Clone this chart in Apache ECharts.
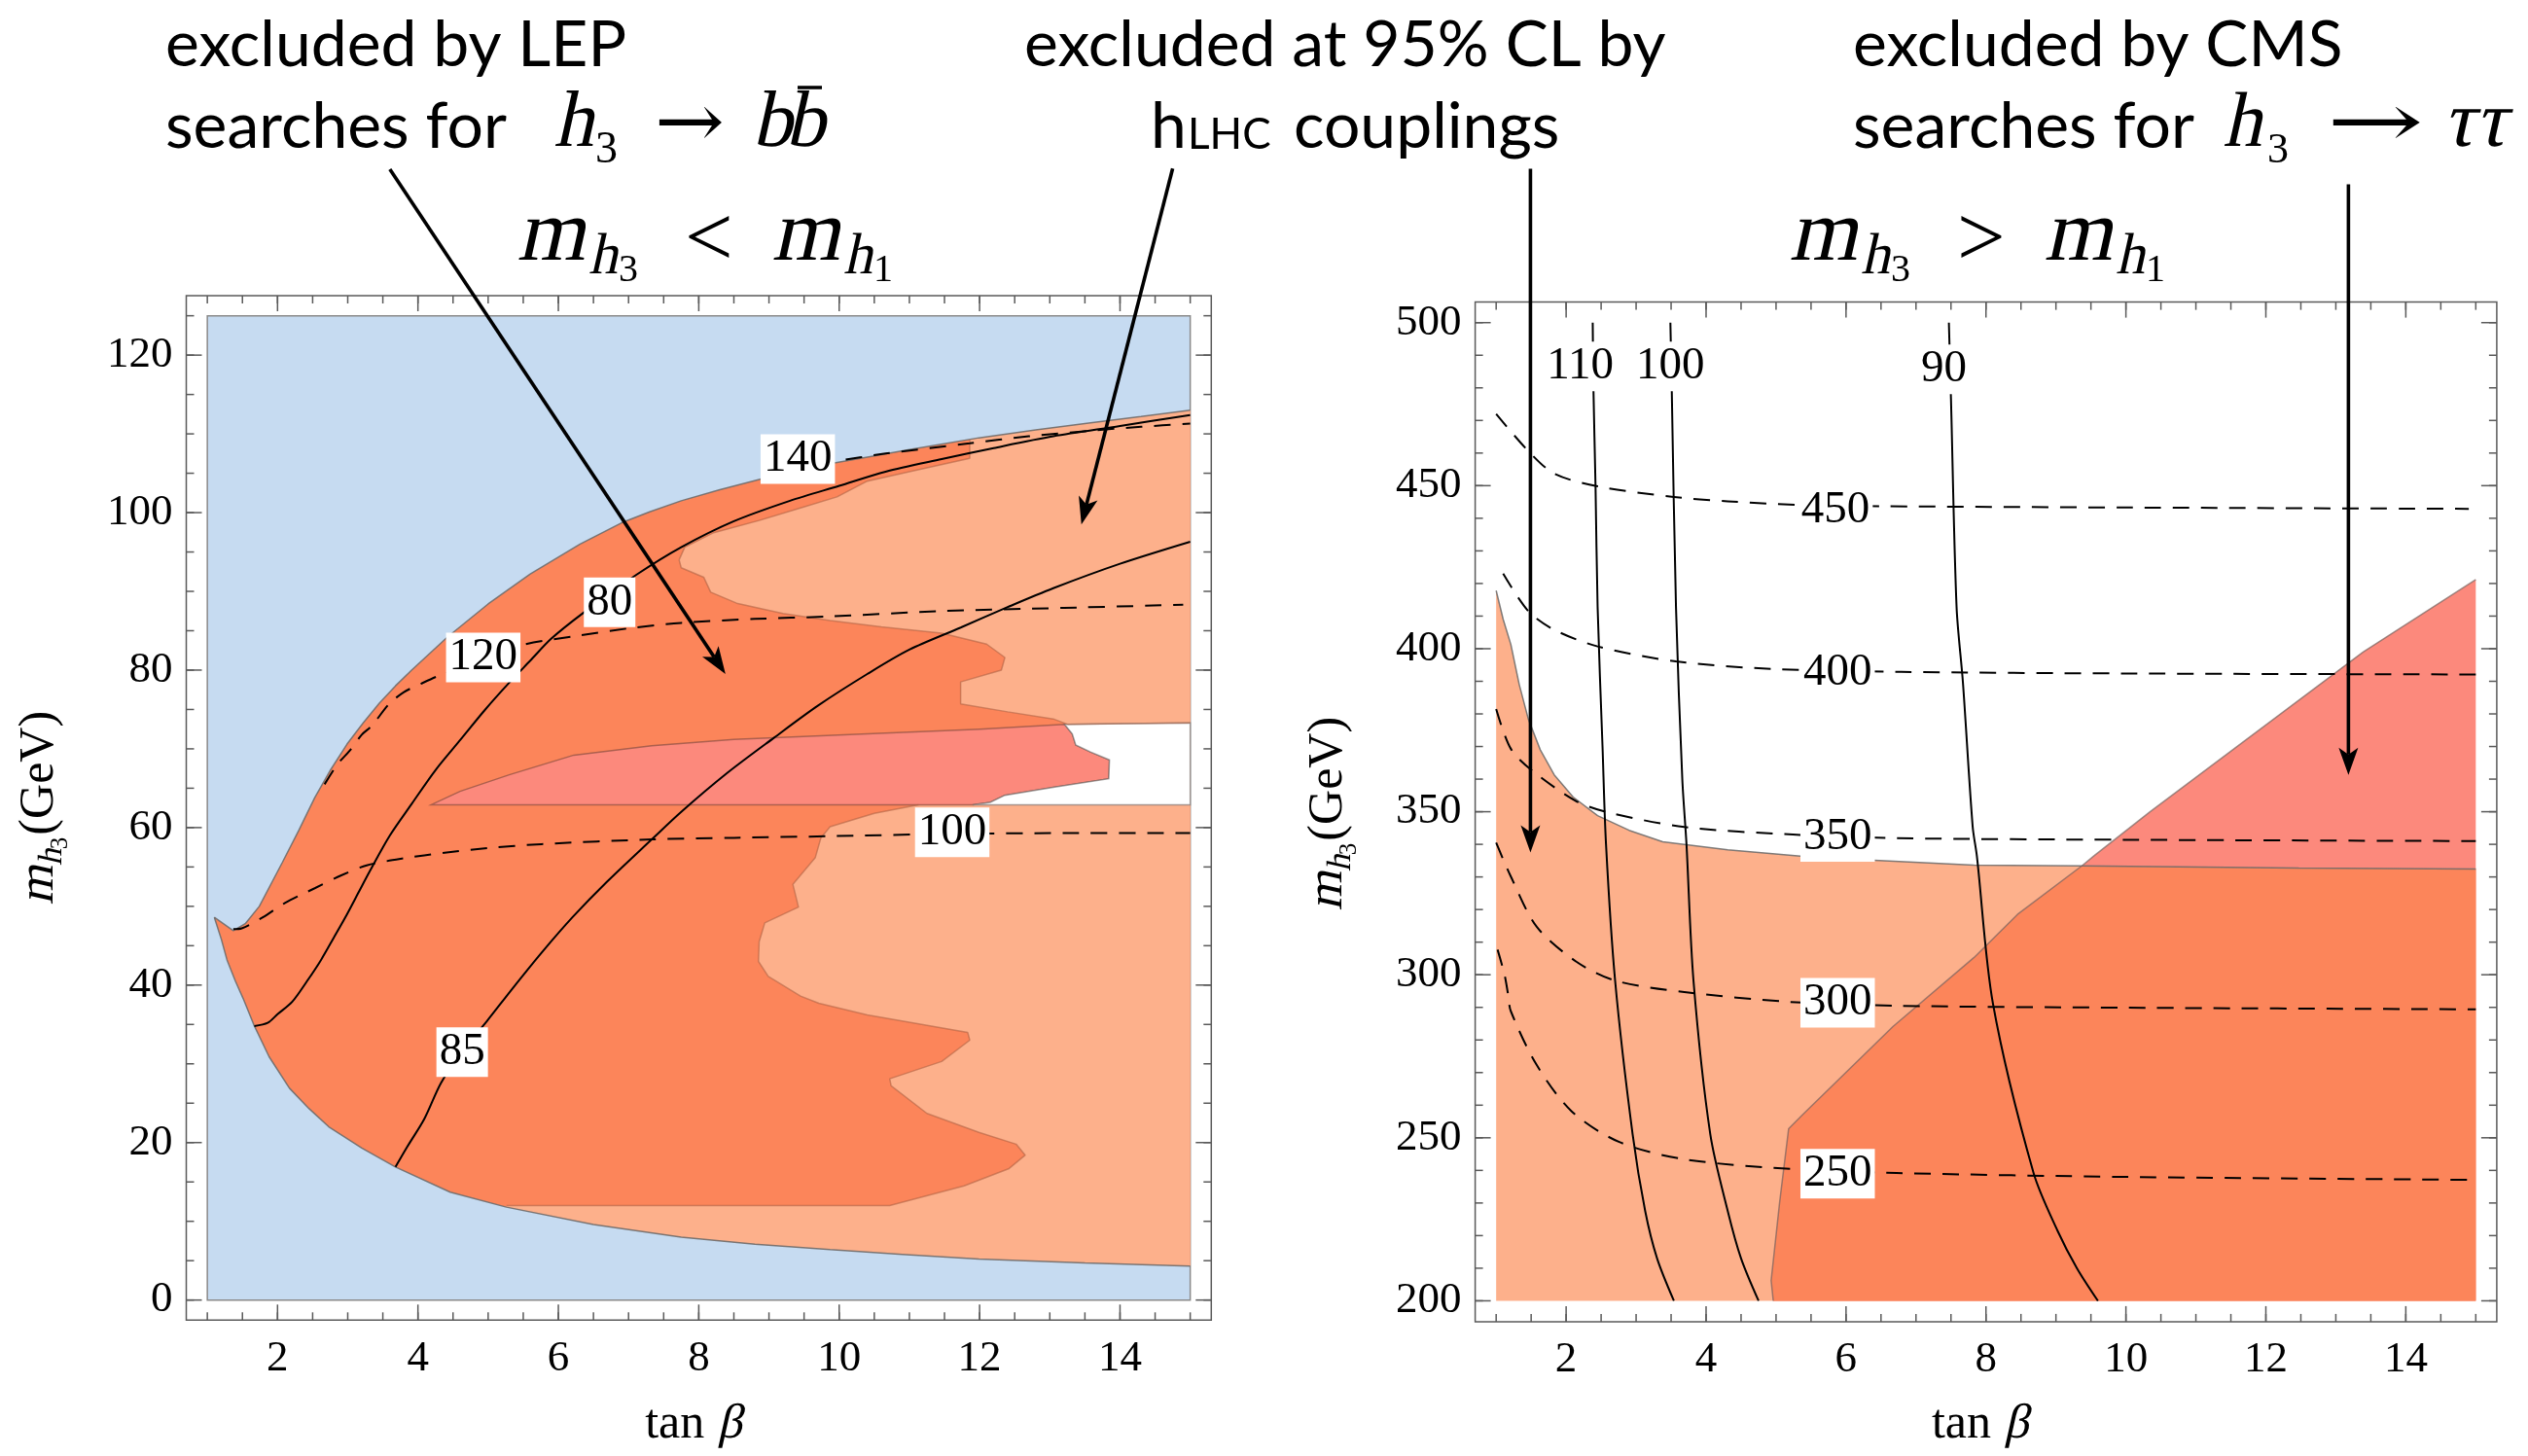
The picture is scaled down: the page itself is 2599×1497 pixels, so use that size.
<!DOCTYPE html>
<html>
<head>
<meta charset="utf-8">
<script src="https://cdn.jsdelivr.net/npm/echarts@6.0.0/dist/echarts.min.js"></script>
<style>
html,body{margin:0;padding:0;background:#ffffff;}
#chart{width:2599px;height:1497px;}
</style>
</head>
<body>
<div id="chart"></div>
<script>
/* ================= tick values ================= */
const xMajorTicks = [2, 4, 6, 8, 10, 12, 14];
const xMinorTicks = [1, 1.5, 2, 2.5, 3, 3.5, 4, 4.5, 5, 5.5, 6, 6.5, 7, 7.5, 8, 8.5, 9, 9.5, 10, 10.5, 11, 11.5, 12, 12.5, 13, 13.5, 14, 14.5, 15];
const leftYMajorTicks = [0, 20, 40, 60, 80, 100, 120];
const leftYMinorTicks = [0, 5, 10, 15, 20, 25, 30, 35, 40, 45, 50, 55, 60, 65, 70, 75, 80, 85, 90, 95, 100, 105, 110, 115, 120, 125];
const rightYMajorTicks = [200, 250, 300, 350, 400, 450, 500];
const rightYMinorTicks = [200, 210, 220, 230, 240, 250, 260, 270, 280, 290, 300, 310, 320, 330, 340, 350, 360, 370, 380, 390, 400, 410, 420, 430, 440, 450, 460, 470, 480, 490, 500];

/* ================= left panel: m_h3 < m_h1 ================= */
const leftScanBox = [[1, 0], [15, 0], [15, 125], [1, 125]];
const leftUpperEdge = [[1.10,48.6],[1.37,46.9],[1.54,47.8],[1.74,50.0],[2.07,55.6],[2.3,59.6],[2.53,63.8],[2.76,67.4],[2.99,70.6],[3.22,73.3],[3.45,75.8],[3.68,78.0],[3.91,80.0],[4.42,84.2],[5.0,88.4],[5.6,92.2],[6.31,96.0],[6.9,98.7],[7.3,100.1],[7.75,101.5],[8.3,102.9],[8.9,104.3],[9.4,105.3],[9.93,106.3],[10.5,107.2],[11.0,108.0],[11.99,109.5],[12.8,110.5],[13.58,111.4],[14.3,112.2],[15.0,113.0]];
const leftLowerEdge = [[1.10,48.6],[1.2,45.8],[1.28,43.2],[1.4,40.5],[1.51,38.3],[1.67,34.8],[1.88,30.9],[2.17,26.9],[2.45,24.3],[2.73,22.0],[3.2,19.3],[3.68,16.9],[4.46,13.7],[5.26,11.8],[6.5,9.6],[7.75,8.0],[8.8,7.1],[9.87,6.4],[10.9,5.8],[11.99,5.2],[13.5,4.7],[15.0,4.3]];
const leftLightUpperTop = [[7.72,94.0],[7.8,95.6],[8.2,97.4],[8.86,99.0],[9.45,100.6],[9.97,102.0],[10.4,104.0],[11.0,105.2],[11.86,106.9],[11.86,109.2]];
const leftLightUpperBottom = [[15,73.3],[13.26,73.1],[13.05,73.8],[12.4,74.7],[11.73,75.7],[11.73,78.5],[12.31,80.0],[12.36,81.6],[12.10,83.3],[11.46,84.7],[10.6,85.5],[9.87,86.3],[9.2,87.2],[8.54,88.5],[8.17,89.9],[8.07,91.8],[7.75,93.0],[7.72,94.0]];
const leftLightLowerEdge = [[15,62.9],[11.13,62.9],[10.5,61.8],[9.87,60.1],[9.74,58.7],[9.66,56.2],[9.34,52.8],[9.42,49.9],[8.94,47.9],[8.86,45.5],[8.85,43.0],[8.99,41.1],[9.45,38.6],[9.71,37.7],[10.40,36.2],[11.83,34.0],[11.86,33.0],[11.46,30.3],[10.72,28.1],[10.74,27.2],[11.25,23.7],[11.99,21.3],[12.52,19.8],[12.65,18.4],[12.42,16.7],[11.78,14.5],[10.72,12.0],[5.26,12.0]];
const leftPinkBand = [[4.19,62.9],[4.6,64.6],[5.3,66.7],[6.22,69.2],[7.33,70.4],[8.5,71.2],[10.4,71.9],[12.0,72.5],[13.21,73.1],[13.32,71.9],[13.37,70.5],[13.58,69.6],[13.85,68.6],[13.84,66.2],[13.05,65.1],[12.36,64.1],[12.15,63.2],[11.9,62.9]];
const leftWhiteBand = [[13.21,73.1],[14.0,73.2],[15,73.3],[15,62.9],[11.9,62.9],[12.15,63.2],[12.36,64.1],[13.05,65.1],[13.84,66.2],[13.85,68.6],[13.58,69.6],[13.37,70.5],[13.32,71.9]];

const leftSolid80 = [[1.67,34.8],[1.86,35.2],[2.0,36.3],[2.21,37.9],[2.42,40.5],[2.62,43.2],[2.8,46.0],[2.99,49.0],[3.15,51.7],[3.31,54.4],[3.6,59.0],[3.91,63.0],[4.25,67.3],[4.61,71.2],[4.95,74.9],[5.30,78.4],[5.6,81.2],[5.90,84.0],[6.36,87.3],[6.73,89.6],[7.11,92.1],[7.75,95.6],[8.5,98.9],[9.3,101.5],[10.0,103.4],[10.66,105.2],[11.46,106.8],[12.2,108.2],[13.05,109.7],[14.0,111.0],[15.0,112.4]];
const leftSolid85 = [[3.68,16.9],[3.85,19.5],[4.09,23.0],[4.33,27.6],[4.63,31.6],[4.98,35.4],[5.35,39.6],[5.76,44.1],[6.2,48.6],[6.69,53.1],[7.33,58.5],[7.75,62.0],[8.4,66.9],[9.07,71.4],[9.7,75.5],[10.40,79.5],[11.0,82.6],[11.73,85.4],[12.4,88.0],[13.05,90.4],[14.0,93.5],[15.0,96.3]];
const leftDashed100 = [[1.37,47.1],[1.49,47.2],[1.79,48.6],[2.1,50.4],[2.53,52.3],[2.9,53.9],[3.27,55.2],[3.8,56.1],[4.38,56.8],[5.0,57.4],[5.76,57.9],[7.33,58.5],[8.5,58.7],[9.83,58.9],[11.6,59.2],[13.3,59.3],[15.0,59.3]];
const leftDashed120 = [[2.67,65.5],[2.85,68.0],[3.03,69.8],[3.2,71.8],[3.34,72.9],[3.59,75.7],[3.8,77.2],[4.05,78.3],[4.3,79.3],[4.6,80.2],[5.0,81.5],[5.49,83.2],[6.31,84.4],[7.0,85.3],[7.75,86.0],[8.8,86.5],[9.83,86.8],[11.46,87.5],[13.2,87.9],[14.9,88.3]];
const leftDashed140 = [[9.3,105.6],[9.93,106.5],[10.66,107.5],[11.86,108.8],[12.7,109.7],[13.58,110.4],[14.3,110.9],[15.0,111.3]];
const leftContourLabels = [['140', 9.41, 106.8], ['80', 6.73, 88.6], ['120', 4.93, 81.6], ['85', 4.63, 31.5], ['100', 11.61, 59.4]];
const leftArrows = [[3.60, 143.6, 8.38, 79.5], [14.75, 143.7, 13.45, 98.5]];

/* ================= right panel: m_h3 > m_h1 ================= */
const rightLightTop = [[1.0,417.8],[1.1,409.0],[1.21,401.3],[1.33,389.0],[1.46,378.4],[1.63,369.0],[1.83,361.3],[2.1,354.5],[2.45,348.8],[2.9,344.3],[3.38,340.8],[4.31,338.3],[5.55,336.0],[7.83,333.6],[9.37,333.4],[12.47,332.7],[15.0,332.4]];
const rightCmsEdge = [[4.96,200],[4.93,206.2],[5.05,230],[5.18,252.8],[5.37,256.9],[6.67,284.1],[7.83,305.3],[8.45,318.5],[9.37,333.4],[9.54,336.4],[10.34,349.9],[13.39,399.0],[15.0,421.2]];
const rightSolid110 = [[2.38,500],[2.39,480],[2.42,450],[2.45,412.7],[2.52,370],[2.57,340],[2.70,298.2],[2.95,251.1],[3.13,227.5],[3.3,213],[3.54,200]];
const rightSolid100 = [[3.49,500],[3.51,478.9],[3.57,412.7],[3.66,360],[3.72,340],[3.82,298.2],[4.06,251.1],[4.31,227.5],[4.5,213],[4.75,200]];
const rightSolid90 = [[7.47,500],[7.50,476.6],[7.58,412.7],[7.67,389.8],[7.81,345.4],[7.87,336.4],[8.10,291.1],[8.68,239.2],[9.02,221.6],[9.3,210],[9.60,200]];
const rightDashed450 = [[1.0,472.0],[1.46,460.6],[1.83,453.7],[2.45,449.8],[3.51,446.6],[4.31,445.2],[5.30,444.1],[6.48,443.7],[10.0,443.3],[14.9,442.9]];
const rightDashed400 = [[1.1,423.0],[1.46,411.5],[1.83,405.8],[2.45,400.7],[3.57,396.1],[4.93,393.8],[6.79,392.9],[10.0,392.4],[15.0,392.1]];
const rightDashed350 = [[1.0,381.5],[1.21,369.3],[1.52,362.5],[2.14,353.3],[2.58,349.9],[3.69,345.3],[5.24,343.0],[6.72,341.9],[10.0,341.4],[15.0,341.0]];
const rightDashed300 = [[1.0,340.5],[1.21,330.1],[1.58,314.7],[2.14,304.1],[2.70,298.2],[3.69,294.7],[5.18,291.7],[6.72,290.5],[10.0,289.9],[15.0,289.4]];
const rightDashed250 = [[1.02,307.7],[1.12,300.0],[1.17,294.0],[1.21,288.8],[1.58,272.3],[2.08,258.1],[2.76,248.7],[3.69,243.4],[5.24,240.4],[6.72,239.2],[10.0,238.0],[15.0,237.1]];
const rightContourLabels = [['110', 2.20, 486.6], ['100', 3.49, 486.6], ['90', 7.40, 485.7], ['450', 5.85, 442.5], ['400', 5.88, 392.6], ['350', 5.88, 342.3], ['300', 5.88, 291.4], ['250', 5.88, 239.0]];
const rightArrows = [[1.49, 547.2, 1.49, 337.5], [13.18, 542.4, 13.18, 361.3]];

/* ================= styling / layout ================= */
const COL = { blue: '#c6dbf1', dark: '#fc855a', light: '#fdb08b', pink: '#fc897c' };
const SERIF = '"Liberation Serif", "Times New Roman", serif';
const SERIF_AX = 'Liberation Serif';
const SANS = 'Lato';
const ARROWF = '"DejaVu Serif", serif';
const L_XR = [0.7, 15.3], L_YR = [-2.55, 127.55];
const R_XR = [0.7, 15.3], R_YR = [193.6, 506.3];
const SLANT = -0.22;   // synthetic oblique for math italics (no serif italic face installed)

function polygonSeries(gi, pts, fill, stroke, z) {
  return {
    type: 'custom', xAxisIndex: gi, yAxisIndex: gi, z: z, silent: true, clip: false,
    data: pts,
    renderItem: function (params, api) {
      if (params.dataIndex !== 0) return null;
      const points = pts.map(p => api.coord(p));
      return { type: 'polygon', shape: { points: points },
        style: { fill: fill, stroke: stroke || 'none', lineWidth: stroke ? 1.5 : 0 } };
    }
  };
}
function lineSeries(gi, pts, opt) {
  return {
    type: 'line', xAxisIndex: gi, yAxisIndex: gi, z: opt.z || 4, silent: true,
    data: pts, showSymbol: false, symbol: 'none', smooth: opt.smooth || 0,
    lineStyle: { color: opt.color || '#000', width: opt.width || 2, type: opt.dash ? [17, 12] : 'solid' },
    animation: false
  };
}
function labelSeries(gi, labels) {
  return {
    type: 'scatter', xAxisIndex: gi, yAxisIndex: gi, z: 8, silent: true, symbolSize: 1,
    itemStyle: { color: '#ffffff', opacity: 1 },
    data: labels.map(l => [l[1], l[2], l[0]]),
    label: { show: true, position: 'inside', formatter: p => p.value[2], opacity: 1,
      fontFamily: SERIF_AX, fontSize: 47, lineHeight: 47, color: '#000',
      backgroundColor: '#ffffff', padding: [3, 3, 1, 3] },
    emphasis: { disabled: true }
  };
}
function tickSeries(gi, xMaj, xMin, yMaj, yMin, xr, yr) {
  const data = [];
  xMin.forEach(v => data.push([v, 0, 0]));
  xMaj.forEach(v => data.push([v, 0, 1]));
  yMin.forEach(v => data.push([v, 1, 0]));
  yMaj.forEach(v => data.push([v, 1, 1]));
  const st = { stroke: '#5a5a5a', lineWidth: 1.5 };
  return {
    type: 'custom', xAxisIndex: gi, yAxisIndex: gi, z: 9, silent: true, clip: false,
    data: data,
    renderItem: function (params, api) {
      const v = api.value(0), kind = api.value(1), L = api.value(2) ? 16 : 8;
      if (kind === 0) {
        const b = api.coord([v, yr[0]]), t = api.coord([v, yr[1]]);
        return { type: 'group', children: [
          { type: 'line', shape: { x1: b[0], y1: b[1], x2: b[0], y2: b[1] - L }, style: st },
          { type: 'line', shape: { x1: t[0], y1: t[1], x2: t[0], y2: t[1] + L }, style: st } ] };
      }
      const l = api.coord([xr[0], v]), r = api.coord([xr[1], v]);
      return { type: 'group', children: [
        { type: 'line', shape: { x1: l[0], y1: l[1], x2: l[0] + L, y2: l[1] }, style: st },
        { type: 'line', shape: { x1: r[0], y1: r[1], x2: r[0] - L, y2: r[1] }, style: st } ] };
    }
  };
}
function arrowSeries(gi, arrows) {
  return {
    type: 'custom', xAxisIndex: gi, yAxisIndex: gi, z: 12, silent: true, clip: false,
    data: arrows,
    renderItem: function (params, api) {
      const p0 = api.coord([api.value(0), api.value(1)]);
      const p1 = api.coord([api.value(2), api.value(3)]);
      const dx = p1[0] - p0[0], dy = p1[1] - p0[1], len = Math.hypot(dx, dy);
      const ux = dx / len, uy = dy / len, nx = -uy, ny = ux;
      const H = 28, W = 10, N = 7;
      const base = [p1[0] - ux * H, p1[1] - uy * H];
      const notch = [p1[0] - ux * (H - N), p1[1] - uy * (H - N)];
      return { type: 'group', children: [
        { type: 'line', shape: { x1: p0[0], y1: p0[1], x2: notch[0], y2: notch[1] }, style: { stroke: '#000', lineWidth: 3.6 } },
        { type: 'polygon', shape: { points: [p1, [base[0] + nx * W, base[1] + ny * W], notch, [base[0] - nx * W, base[1] - ny * W]] }, style: { fill: '#000' } } ] };
    }
  };
}

/* ----- polygons built from the named arrays ----- */
const leftCrescent = leftUpperEdge.concat(leftLowerEdge.slice().reverse());
const leftLightUpper = leftLightUpperTop.concat(leftUpperEdge.filter(p => p[0] > 11.9)).concat(leftLightUpperBottom);
const leftLightLower = leftLightLowerEdge.concat(leftLowerEdge.filter(p => p[0] >= 5.26));
const rightLight = [[1, 200]].concat(rightLightTop).concat([[15, 200]]);
const rightCms = rightCmsEdge.concat([[15, 200]]);
const rightDark = rightCmsEdge.filter(p => p[0] <= 9.37).concat(rightLightTop.filter(p => p[0] > 9.37)).concat([[15, 200]]);

/* ----- text helpers (layout only) ----- */
const MID = { sans: 0.387, serif: 0.3375, arrow: 0.346 };
const FAM = { sans: SANS, serif: SERIF, arrow: ARROWF };
const mctx = document.createElement('canvas').getContext('2d');
function fontStr(fam, s) { return s + 'px ' + FAM[fam]; }
function measure(t, fam, s) { mctx.font = fontStr(fam, s); return mctx.measureText(t).width; }
function txt(t, x, base, fam, s, it, sx) {
  const el = { type: 'text', x: x, y: base - MID[fam] * s, z: 50, scaleX: sx || 1, silent: true,
    style: { text: t, font: fontStr(fam, s), fill: '#000',
      textAlign: 'left', align: 'left', textVerticalAlign: 'middle', verticalAlign: 'middle' } };
  if (it) { el.skewX = SLANT; el.originX = 0; el.originY = MID[fam] * s; }
  return el;
}
function seq(pieces) {
  let cx = 0; const out = [];
  pieces.forEach(p => {
    out.push(txt(p.t, cx, p.dy || 0, p.fam, p.s, p.it));
    cx += measure(p.t, p.fam, p.s) + (p.gap || 0);
  });
  return { children: out, width: cx };
}

const graphics = [];
/* annotations */
graphics.push(txt('excluded by LEP', 170, 72, 'sans', 66));
graphics.push(txt('searches for', 170, 156, 'sans', 66));
graphics.push(txt('h', 568, 156, 'serif', 82, true));
graphics.push(txt('3', 612, 170, 'serif', 46));
(function () { const w = measure('\u2192', 'arrow', 78); graphics.push(txt('\u2192', 673, 158, 'arrow', 78, false, 72 / w)); })();
graphics.push(txt('b', 772, 156, 'serif', 82, true));
graphics.push(txt('b', 806, 156, 'serif', 82, true));
graphics.push({ type: 'line', z: 50, silent: true, shape: { x1: 820, y1: 90, x2: 845, y2: 90 }, style: { stroke: '#000', lineWidth: 3.5 } });

graphics.push(txt('excluded at 95% CL by', 1053, 72, 'sans', 66));
graphics.push(txt('h', 1183, 156, 'sans', 66));
graphics.push(txt('LHC', 1221, 156, 'sans', 44));
graphics.push(txt('couplings', 1330, 156, 'sans', 66));

graphics.push(txt('excluded by CMS', 1905, 72, 'sans', 66));
graphics.push(txt('searches for', 1905, 156, 'sans', 66));
graphics.push(txt('h', 2284, 156, 'serif', 80, true));
graphics.push(txt('3', 2331, 170, 'serif', 44));
(function () { const w = measure('\u2192', 'arrow', 78); graphics.push(txt('\u2192', 2392, 158, 'arrow', 78, false, 100 / w)); })();
graphics.push(txt('\u03c4\u03c4', 2510, 156, 'serif', 82, true));

/* panel titles */
[[0, '<'], [1308, '>']].forEach(([off, rel]) => {
  graphics.push(txt('m', 530 + off, 274, 'serif', 90, true));
  graphics.push(txt('h', 604 + off, 285, 'serif', 60, true));
  graphics.push(txt('3', 636 + off, 292, 'serif', 40));
  graphics.push(txt(rel, 704 + off, 280, 'serif', 88));
  graphics.push(txt('m', 792 + off, 274, 'serif', 90, true));
  graphics.push(txt('h', 866 + off, 285, 'serif', 60, true));
  graphics.push(txt('1', 898 + off, 292, 'serif', 40));
});

/* axis titles */
[[712.7], [2035.4]].forEach(([cx]) => {
  const g = seq([{ t: 'tan ', fam: 'serif', s: 50 }, { t: '\u03b2', fam: 'serif', s: 50, it: true }]);
  graphics.push({ type: 'group', x: cx - g.width / 2, y: 1482, children: g.children });
});
[[58, 831], [1383, 837]].forEach(([bx, cy]) => {
  const g = seq([{ t: 'm', fam: 'serif', s: 52, it: true }, { t: 'h', fam: 'serif', s: 35, it: true, dy: 8 },
                 { t: '3', fam: 'serif', s: 25, dy: 13, gap: 2 }, { t: '(GeV)', fam: 'serif', s: 50 }]);
  graphics.push({ type: 'group', x: bx, y: cy + g.width / 2, rotation: Math.PI / 2, children: g.children });
});

/* ----- axes ----- */
function xAxisCfg(gi, r) {
  return { gridIndex: gi, type: 'value', min: r[0], max: r[1], position: 'bottom',
    axisLine: { show: false }, axisTick: { show: false }, splitLine: { show: false },
    axisLabel: { customValues: xMajorTicks, margin: 17, fontFamily: SERIF_AX, fontSize: 45, color: '#000' } };
}
function yAxisCfg(gi, r, ticks) {
  return { gridIndex: gi, type: 'value', min: r[0], max: r[1], position: 'left',
    axisLine: { show: false }, axisTick: { show: false }, splitLine: { show: false },
    axisLabel: { customValues: ticks, margin: 14, fontFamily: SERIF_AX, fontSize: 45, color: '#000' } };
}

const edgeCol = 'rgba(105,105,105,0.85)';
const innerCol = 'rgba(170,95,65,0.55)';

const series = [
  /* left */
  polygonSeries(0, leftScanBox, COL.blue, '#8a8a8a', 1),
  polygonSeries(0, leftCrescent, COL.dark, null, 2),
  polygonSeries(0, leftLightUpper, COL.light, null, 2),
  polygonSeries(0, leftLightLower, COL.light, null, 2),
  polygonSeries(0, leftPinkBand, COL.pink, 'rgba(120,70,60,0.6)', 3),
  polygonSeries(0, leftWhiteBand, '#ffffff', 'rgba(110,110,110,0.6)', 3),
  lineSeries(0, leftLightUpperTop, { color: innerCol, width: 1.5, z: 3 }),
  lineSeries(0, leftLightUpperBottom, { color: innerCol, width: 1.5, z: 3 }),
  lineSeries(0, leftLightLowerEdge.slice(1), { color: innerCol, width: 1.5, z: 3 }),
  lineSeries(0, leftUpperEdge, { color: edgeCol, width: 1.5, z: 3 }),
  lineSeries(0, leftLowerEdge, { color: edgeCol, width: 1.5, z: 3 }),
  lineSeries(0, leftSolid80, { smooth: 0.3 }),
  lineSeries(0, leftSolid85, { smooth: 0.3 }),
  lineSeries(0, leftDashed100, { smooth: 0.3, dash: true }),
  lineSeries(0, leftDashed120, { smooth: 0.3, dash: true }),
  lineSeries(0, leftDashed140, { smooth: 0.3, dash: true }),
  labelSeries(0, leftContourLabels),
  tickSeries(0, xMajorTicks, xMinorTicks, leftYMajorTicks, leftYMinorTicks, L_XR, L_YR),
  arrowSeries(0, leftArrows),
  /* right */
  polygonSeries(1, rightLight, COL.light, null, 1),
  polygonSeries(1, rightCms, COL.pink, null, 2),
  polygonSeries(1, rightDark, COL.dark, null, 2),
  lineSeries(1, rightLightTop, { color: edgeCol, width: 1.5, z: 3 }),
  lineSeries(1, rightCmsEdge, { color: 'rgba(120,100,95,0.7)', width: 1.5, z: 3 }),
  lineSeries(1, rightSolid110, { smooth: 0.3 }),
  lineSeries(1, rightSolid100, { smooth: 0.3 }),
  lineSeries(1, rightSolid90, { smooth: 0.3 }),
  lineSeries(1, rightDashed450, { smooth: 0.3, dash: true }),
  lineSeries(1, rightDashed400, { smooth: 0.3, dash: true }),
  lineSeries(1, rightDashed350, { smooth: 0.3, dash: true }),
  lineSeries(1, rightDashed300, { smooth: 0.3, dash: true }),
  lineSeries(1, rightDashed250, { smooth: 0.3, dash: true }),
  labelSeries(1, rightContourLabels),
  tickSeries(1, xMajorTicks, xMinorTicks, rightYMajorTicks, rightYMinorTicks, R_XR, R_YR),
  arrowSeries(1, rightArrows)
];

const chart = echarts.init(document.getElementById('chart'), null, { renderer: 'canvas', width: 2599, height: 1497 });
chart.setOption({
  animation: false,
  backgroundColor: '#ffffff',
  grid: [
    { left: 191.5, top: 304, width: 1053.8, height: 1053.3, show: true, borderColor: '#5a5a5a', borderWidth: 1.5, backgroundColor: 'transparent', containLabel: false },
    { left: 1516.6, top: 310.6, width: 1050.3, height: 1048.3, show: true, borderColor: '#5a5a5a', borderWidth: 1.5, backgroundColor: 'transparent', containLabel: false }
  ],
  xAxis: [xAxisCfg(0, L_XR), xAxisCfg(1, R_XR)],
  yAxis: [yAxisCfg(0, L_YR, leftYMajorTicks), yAxisCfg(1, R_YR, rightYMajorTicks)],
  series: series,
  graphic: { elements: graphics }
});
</script>
</body>
</html>
